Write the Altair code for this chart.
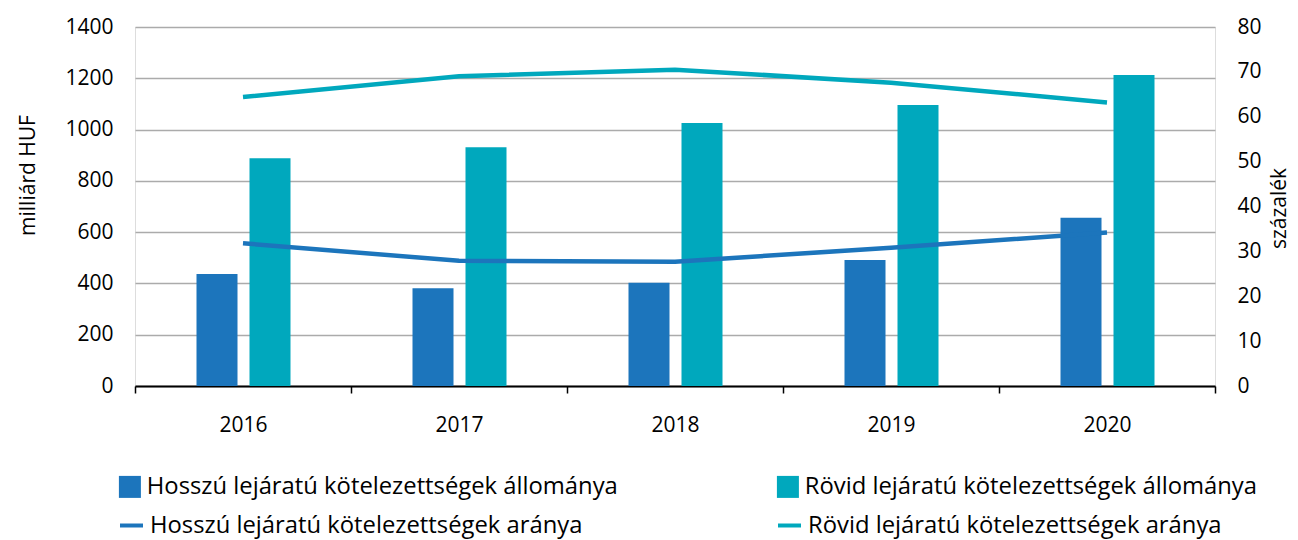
import altair as alt
import pandas as pd

years = ["2016", "2017", "2018", "2019", "2020"]
long_stock = [437, 381, 403, 491, 656]
short_stock = [888, 931, 1026, 1096, 1213]
long_share = [31.8, 27.9, 27.7, 30.8, 34.2]
short_share = [64.4, 69.0, 70.5, 67.6, 63.2]

s_long_stock = "Hosszú lejáratú kötelezettségek állománya"
s_short_stock = "Rövid lejáratú kötelezettségek állománya"
s_long_share = "Hosszú lejáratú kötelezettségek aránya"
s_short_share = "Rövid lejáratú kötelezettségek aránya"

BLUE = "#1c75bc"
TEAL = "#00a8bd"
FONT = "Open Sans"

bars_df = pd.DataFrame(
    {"year": years * 2,
     "series": [s_long_stock] * 5 + [s_short_stock] * 5,
     "value": long_stock + short_stock}
)
lines_df = pd.DataFrame(
    {"year": years * 2,
     "series": [s_long_share] * 5 + [s_short_share] * 5,
     "value": long_share + short_share}
)

x_enc = alt.X(
    "year:N", sort=years,
    scale=alt.Scale(paddingInner=0, paddingOuter=0),
    axis=alt.Axis(
        title=None, tickBand="extent", grid=False, domainColor="#000000",
        domainWidth=2, tickColor="#000000", tickWidth=1.5, tickSize=7,
        labelPadding=21, labelFontSize=21, labelColor="#000000",
        labelFont=FONT, labelAngle=0,
    ),
)

left_axis = alt.Axis(
    title="milliárd HUF", values=[0, 200, 400, 600, 800, 1000, 1200, 1400],
    format="d",
    domain=False, ticks=False, labelPadding=22, labelFontSize=21,
    labelColor="#000000", labelFont=FONT, grid=True, gridColor="#ababab",
    gridWidth=1.5, titleFont=FONT, titleFontSize=21, titleFontWeight="normal",
    titleColor="#000000", titleX=-107, titleY=148, titleAlign="center",
    titleBaseline="middle",
)
right_axis = alt.Axis(
    title="százalék", orient="right", values=[0, 10, 20, 30, 40, 50, 60, 70, 80],
    format="d",
    domain=False, ticks=False, labelPadding=22, labelFontSize=21,
    labelColor="#000000", labelFont=FONT, grid=False, titleFont=FONT,
    titleFontSize=21, titleFontWeight="normal", titleColor="#000000",
    titleAngle=270, titleX=64, titleY=181, titleAlign="center",
    titleBaseline="middle",
)

xoff = alt.XOffset(
    "series:N",
    scale=alt.Scale(domain=[s_long_stock, s_short_stock], range=[61.5, 155.5],
                    paddingInner=0.2264, paddingOuter=0),
)


def legend(x, y, kind):
    common = dict(
        orient="none", legendX=x, legendY=y, title=None, padding=0,
        labelFont=FONT, labelFontSize=23.8, labelColor="#000000",
        labelOffset=5, labelLimit=700,
    )
    if kind == "square":
        return alt.Legend(symbolType="square", symbolSize=484,
                          symbolStrokeWidth=0, **common)
    return alt.Legend(symbolType="stroke", symbolSize=529,
                      symbolStrokeWidth=4, **common)


def bar_layer(name, col, lx, ly):
    return (
        alt.Chart(bars_df)
        .transform_filter(alt.datum.series == name)
        .mark_bar()
        .encode(
            x=x_enc,
            xOffset=xoff,
            y=alt.Y("value:Q", scale=alt.Scale(domain=[0, 1400]), axis=left_axis),
            color=alt.Color("series:N",
                            scale=alt.Scale(domain=[name], range=[col]),
                            legend=legend(lx, ly, "square")),
        )
    )


def line_layer(name, col, lx, ly):
    return (
        alt.Chart(lines_df)
        .transform_filter(alt.datum.series == name)
        .mark_line(strokeWidth=4.5)
        .encode(
            x=x_enc,
            y=alt.Y("value:Q", scale=alt.Scale(domain=[0, 80]), axis=right_axis),
            color=alt.Color("series:N",
                            scale=alt.Scale(domain=[name], range=[col]),
                            legend=legend(lx, ly, "stroke")),
        )
    )


bars = alt.layer(
    bar_layer(s_long_stock, BLUE, -17, 448),
    bar_layer(s_short_stock, TEAL, 641, 448),
).resolve_scale(color="independent")

lines = alt.layer(
    line_layer(s_long_share, BLUE, -17, 485),
    line_layer(s_short_share, TEAL, 641, 485),
).resolve_scale(color="independent")

chart = (
    alt.layer(bars, lines)
    .resolve_scale(y="independent", color="independent")
    .properties(
        width=1080, height=359,
        autosize=alt.AutoSizeParams(type="none"),
        padding={"left": 127, "top": 19, "right": 75, "bottom": 154},
    )
    .configure_view(stroke=None)
    .configure(font=FONT)
)

chart.save("out.html", embed_options={"renderer": "svg", "actions": False})
